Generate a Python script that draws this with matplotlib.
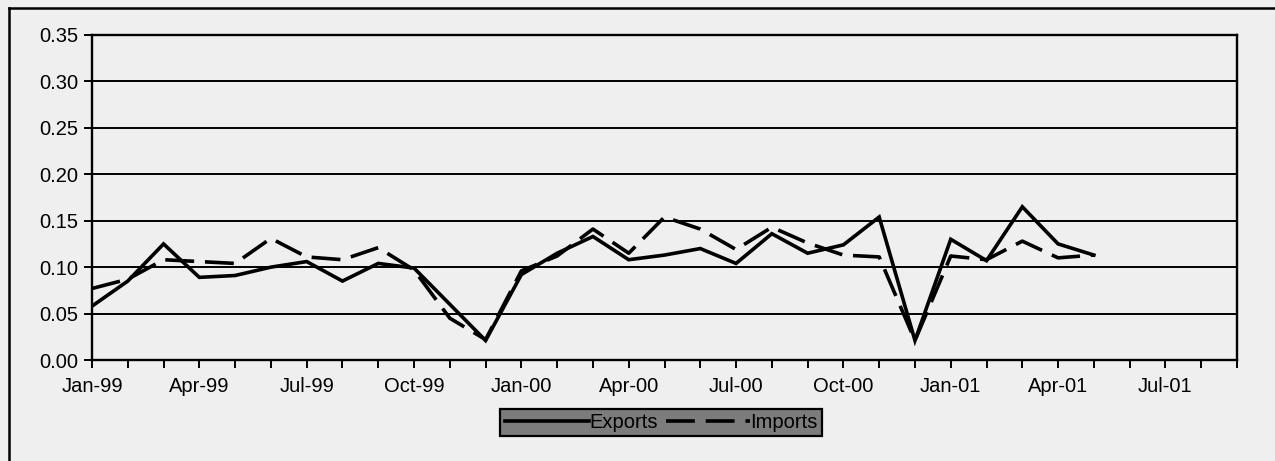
import matplotlib
matplotlib.use('Agg')
import matplotlib.pyplot as plt
from matplotlib.lines import Line2D

OUT = 'out.png'

# month index 0 = Jan-99
MONTHS  = list(range(29))
EXPORTS = [0.058, 0.085, 0.125, 0.089, 0.091, 0.100, 0.106, 0.085, 0.104, 0.099,
           0.060, 0.021, 0.092, 0.115, 0.133, 0.108, 0.113, 0.120, 0.104, 0.136,
           0.115, 0.124, 0.154, 0.021, 0.130, 0.107, 0.165, 0.125, 0.113]
IMPORTS = [0.077, 0.087, 0.108, 0.106, 0.104, 0.131, 0.111, 0.108, 0.121, 0.097,
           0.045, 0.022, 0.096, 0.112, 0.141, 0.115, 0.154, 0.141, 0.119, 0.143,
           0.126, 0.113, 0.111, 0.021, 0.112, 0.108, 0.128, 0.110, 0.113]

XTICK_POS    = [0, 3, 6, 9, 12, 15, 18, 21, 24, 27, 30]
XTICK_LABELS = ['Jan-99', 'Apr-99', 'Jul-99', 'Oct-99', 'Jan-00', 'Apr-00',
                'Jul-00', 'Oct-00', 'Jan-01', 'Apr-01', 'Jul-01']
YTICKS = [0.00, 0.05, 0.10, 0.15, 0.20, 0.25, 0.30, 0.35]

BG = '#efefef'
FS = 14.5
plt.rcParams['font.family'] = ['Liberation Sans', 'DejaVu Sans']

fig = plt.figure(figsize=(12.75, 4.61), dpi=100, facecolor=BG)
ax = fig.add_axes([92 / 1275, 1 - 360 / 461, (1237 - 92) / 1275, (360 - 35) / 461])
ax.set_facecolor(BG)

# gridlines
for y in YTICKS:
    ax.axhline(y, color='black', linewidth=1.4, zorder=1)

ax.plot(MONTHS, EXPORTS, color='black', linewidth=2.6, label='Exports',
        solid_joinstyle='miter', zorder=3)
ax.plot(MONTHS, IMPORTS, color='black', linewidth=2.6, label='Imports',
        dashes=(8, 3), zorder=3)

ax.set_xlim(0, 32)
ax.set_ylim(0, 0.35)
ax.set_yticks(YTICKS)
ax.set_yticklabels([f'{v:.2f}' for v in YTICKS], fontsize=FS)
ax.set_xticks(range(33), minor=True)
ax.set_xticks(XTICK_POS)
ax.set_xticklabels(XTICK_LABELS, fontsize=FS)
ax.tick_params(axis='both', which='both', direction='out', length=6, width=1.4,
               color='black', pad=4)
ax.tick_params(axis='x', which='major', pad=6)
for spine in ax.spines.values():
    spine.set_linewidth(1.7)
    spine.set_color('black')

leg = ax.legend(loc='upper center', bbox_to_anchor=(0.497, -0.151), ncol=2,
                frameon=True, fontsize=FS, handlelength=4.2, handletextpad=0.0,
                columnspacing=0.4, borderpad=0.2, fancybox=False,
                borderaxespad=0)
leg.get_frame().set_facecolor('#7c7c7c')
leg.get_frame().set_edgecolor('black')
leg.get_frame().set_linewidth(1.6)
leg.get_frame().set_alpha(1)

# outer frame (top and left only visible in the scan)
fig.add_artist(Line2D([9 / 1275, 9 / 1275], [0, 1 - 8 / 461], transform=fig.transFigure,
                      color='black', linewidth=1.8))
fig.add_artist(Line2D([9 / 1275, 1], [1 - 8 / 461, 1 - 8 / 461], transform=fig.transFigure,
                      color='black', linewidth=1.8))

fig.savefig(OUT, dpi=100, facecolor=BG)
plt.close(fig)
